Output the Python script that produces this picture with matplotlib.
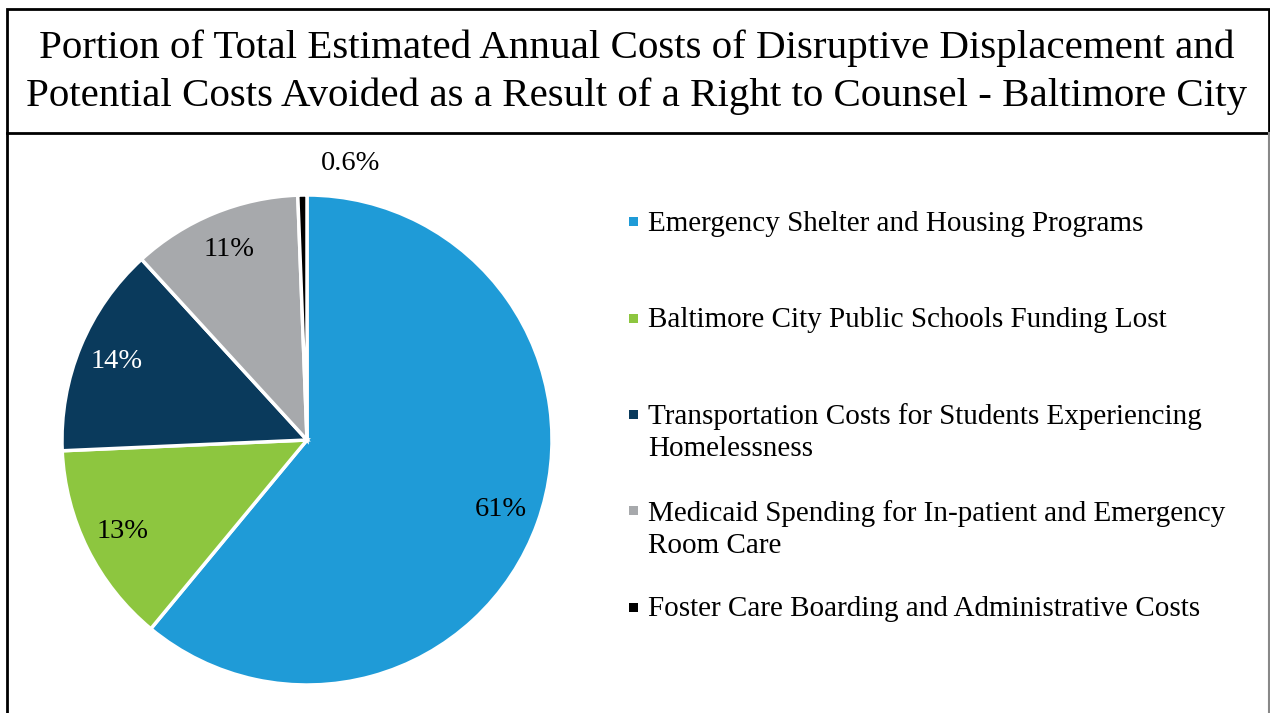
import numpy as np
import matplotlib.pyplot as plt
from matplotlib.patches import Rectangle

plt.rcParams['font.family'] = ['Liberation Serif', 'DejaVu Serif']

title = ("Portion of Total Estimated Annual Costs of Disruptive Displacement and\n"
         "Potential Costs Avoided as a Result of a Right to Counsel - Baltimore City")
categories = ["Emergency Shelter and Housing Programs",
              "Baltimore City Public Schools Funding Lost",
              "Transportation Costs for Students Experiencing\nHomelessness",
              "Medicaid Spending for In-patient and Emergency\nRoom Care",
              "Foster Care Boarding and Administrative Costs"]
shares = [61.0, 13.3, 13.9, 11.2, 0.6]
colors = ["#1F9BD7", "#8DC63F", "#0A3A5C", "#A7A9AC", "#000000"]
label_colors = ["black", "black", "white", "black", "black"]

W, H = 1270, 713
fig = plt.figure(figsize=(W / 100, H / 100), dpi=100)


def fx(x):
    return x / W


def fy(y):
    return 1 - y / H


# frames: title box and chart box
fig.patches.append(Rectangle((fx(7), fy(133)), fx(1269) - fx(7), fy(9) - fy(133),
                             transform=fig.transFigure, fill=False,
                             edgecolor="black", linewidth=2))
fig.add_artist(plt.Line2D([fx(7), fx(7)], [fy(133), 0], transform=fig.transFigure,
                          color="black", linewidth=2))
fig.add_artist(plt.Line2D([fx(1269), fx(1269)], [fy(133), 0], transform=fig.transFigure,
                          color="#888888", linewidth=1.5))

fig.text(fx(637), fy(72), title, ha="center", va="center", fontsize=29.5,
         linespacing=1.38)

# pie
cx, cy, r = 307, 440, 245
ax = fig.add_axes([fx(cx - r), fy(cy + r), (2 * r) / W, (2 * r) / H])


def fmt(p):
    return f"{p:.1f}%" if p < 1 else f"{p:.0f}%"


wedges, texts, autotexts = ax.pie(shares, colors=colors, startangle=90,
                                  counterclock=False, autopct=fmt,
                                  pctdistance=0.84,
                                  wedgeprops=dict(edgecolor="white", linewidth=2.5),
                                  textprops=dict(fontsize=20.5))
ax.set_xlim(-1, 1)
ax.set_ylim(-1, 1)
for t, c in zip(autotexts, label_colors):
    t.set_color(c)

# tiny slice label sits outside
w = wedges[-1]
mid = np.deg2rad((w.theta1 + w.theta2) / 2)
autotexts[-1].set_position((1.13 * np.cos(mid) + 0.2, 1.13 * np.sin(mid)))

# legend
lx, ly0, dy = 633, 222, 96.25
for i, (lab, col) in enumerate(zip(categories, colors)):
    y = ly0 + i * dy
    fig.patches.append(Rectangle((fx(lx - 4.5), fy(y + 4.5)), 9 / W, 9 / H,
                                 transform=fig.transFigure, facecolor=col,
                                 edgecolor="none"))
    fig.text(fx(648), fy(y - 11), lab, ha="left", va="top", fontsize=21,
             linespacing=1.3)

fig.savefig("out.png", dpi=100)
